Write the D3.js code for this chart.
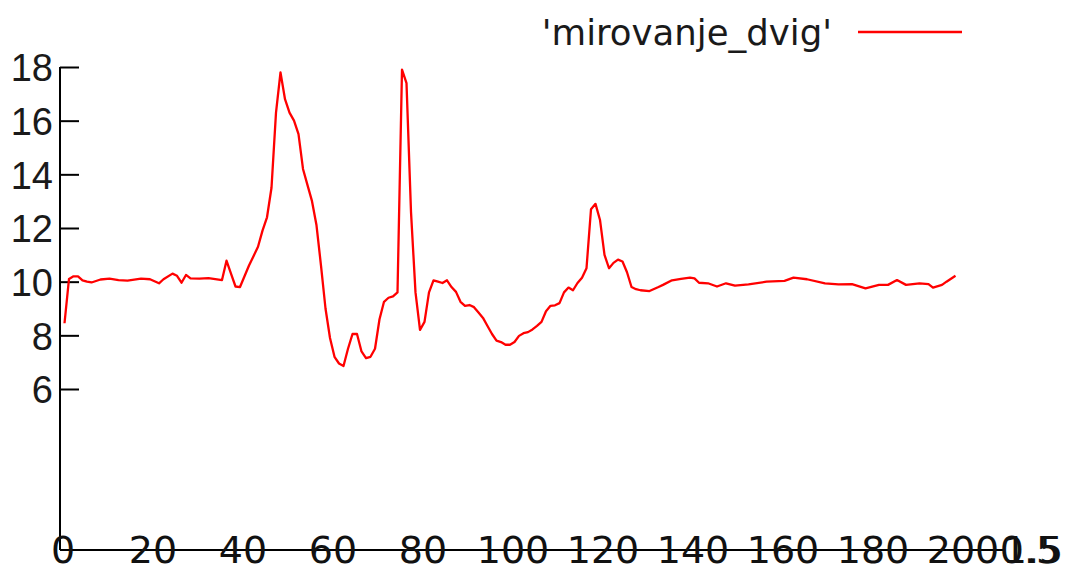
<!DOCTYPE html>
<html>
<head>
<meta charset="utf-8">
<script src="https://cdn.jsdelivr.net/npm/d3@7"></script>
<style>
  html, body { margin: 0; padding: 0; background: #fff; }
  svg { display: block; font-family: "DejaVu Sans", sans-serif; }
</style>
</head>
<body>
<svg id="chart" width="1067" height="566"></svg>
<script>
// Series: sample index and measured value
const sampleX = [1, 2, 3, 4, 5, 6, 7, 9, 11, 13, 15, 18, 20, 22, 23, 25, 26, 27, 28, 29, 31, 33, 36,
  37, 38, 39, 40, 42, 43, 44, 45, 46, 47, 48, 49, 50, 51, 52, 53, 54, 55, 56, 57, 58, 59, 60,
  61, 62, 63, 64, 65, 66, 67, 68, 69, 70, 71, 72, 73, 74, 75, 76, 77, 78, 79, 80, 81, 82, 83,
  84, 85, 86, 87, 88, 89, 90, 91, 92, 93, 94, 95, 96, 97, 98, 99, 100, 101, 102, 103, 104, 105,
  106, 107, 108, 109, 110, 111, 112, 113, 114, 115, 116, 117, 118, 119, 120, 121, 122, 123, 124,
  125, 126, 127, 128, 129, 131, 133, 134, 136, 138, 140, 141, 142, 144, 146, 148, 150, 153, 157,
  161, 163, 166, 170, 173, 176, 179, 182, 184, 186, 188, 191, 193, 194, 196, 197, 199];
const sampleY = [8.45, 10.1, 10.2, 10.2, 10.05, 10.0, 9.97, 10.08, 10.11, 10.06, 10.04, 10.11, 10.09,
  9.94, 10.09, 10.3, 10.22, 9.96, 10.25, 10.12, 10.11, 10.13, 10.06,
  10.78, 10.3, 9.82, 9.8, 10.6, 10.95, 11.3, 11.9, 12.4, 13.5, 16.3, 17.8, 16.8, 16.3, 16.0, 15.5,
  14.2, 13.6, 13.0, 12.1, 10.6, 9.0, 7.9,
  7.2, 6.95, 6.86, 7.5, 8.05, 8.05, 7.4, 7.15, 7.2, 7.5, 8.6, 9.25, 9.4, 9.45, 9.6, 17.9, 17.4,
  12.6, 9.6, 8.2, 8.5, 9.6, 10.05,
  10.0, 9.95, 10.05, 9.8, 9.62, 9.25, 9.1, 9.13, 9.05, 8.85, 8.65, 8.35, 8.05, 7.8, 7.75, 7.65,
  7.65, 7.75, 7.98, 8.08, 8.12, 8.22,
  8.35, 8.5, 8.9, 9.1, 9.12, 9.2, 9.6, 9.78, 9.68, 9.95, 10.15, 10.5, 12.7, 12.9, 12.3, 11.0,
  10.5, 10.7, 10.82,
  10.75, 10.35, 9.8, 9.72, 9.68, 9.65, 9.8, 9.88, 10.05, 10.1, 10.15, 10.12, 9.96, 9.94, 9.82,
  9.94, 9.85, 9.9, 10.0,
  10.03, 10.15, 10.09, 9.94, 9.9, 9.91, 9.75, 9.88, 9.88, 10.06, 9.88, 9.94, 9.91, 9.78, 9.88,
  10.0, 10.22];

// Axis ticks
const xTickValues = [0, 20, 40, 60, 80, 100, 120, 140, 160, 180, 200];
const yTickValues = [6, 8, 10, 12, 14, 16, 18];
// Extra labels printed past the end of the x axis
const xEndLabels = ["0.5", "1.5"];

const seriesName = "'mirovanje_dvig'";

const svg = d3.select("#chart");
const x = d3.scaleLinear().domain([0, 200]).range([60, 960]);
const y = d3.scaleLinear().domain([0, 18]).range([550, 67]);

const tickFont = 38;
const legendFont = 35.5;

// Y axis: ticks pointing into the plot
const yAxis = d3.axisRight(y).tickValues(yTickValues).tickSize(19).tickFormat("");
const yg = svg.append("g").attr("transform", `translate(${x(0)},0)`).call(yAxis);
yg.select(".domain").attr("d", `M0,${y(0)}V${y(18)}`);
yg.selectAll("path, line").attr("stroke", "#000").attr("stroke-width", 2);

yg.selectAll(".tick").append("text")
  .attr("x", -7)
  .attr("dy", "0.36em")
  .attr("text-anchor", "end")
  .attr("fill", "#1a1a1a")
  .style("font-size", tickFont + "px")
  .text(d => d);

// X axis line along y = 0
svg.append("line")
  .attr("x1", x(0)).attr("x2", x(200) + 45)
  .attr("y1", y(0)).attr("y2", y(0))
  .attr("stroke", "#000").attr("stroke-width", 2);

// X tick labels centred on the axis line
svg.append("g").selectAll("text")
  .data(xTickValues)
  .join("text")
  .attr("x", d => x(d) + 3)
  .attr("y", y(0))
  .attr("dy", "0.33em")
  .attr("text-anchor", "middle")
  .attr("fill", "#111")
  .style("font-size", tickFont + "px")
  .text(d => d);

svg.append("g").selectAll("text")
  .data(xEndLabels)
  .join("text")
  .attr("x", (d, i) => x(200) + 70 + i * 3)
  .attr("y", y(0))
  .attr("dy", "0.33em")
  .attr("text-anchor", "middle")
  .attr("fill", "#111")
  .style("font-size", tickFont + "px")
  .text(d => d);

// Data line
const points = sampleX.map((v, i) => [v, sampleY[i]]);
const line = d3.line().x(d => x(d[0])).y(d => y(d[1]));
svg.append("path")
  .datum(points)
  .attr("d", line)
  .attr("fill", "none")
  .attr("stroke", "#ff0000")
  .attr("stroke-width", 2.3)
  .attr("stroke-linejoin", "round");

// Legend
const legend = svg.append("g");
legend.append("text")
  .attr("x", 832)
  .attr("y", 45)
  .attr("text-anchor", "end")
  .attr("fill", "#1a1a1a")
  .style("font-size", legendFont + "px")
  .text(seriesName);
legend.append("line")
  .attr("x1", 858).attr("x2", 962)
  .attr("y1", 32).attr("y2", 32)
  .attr("stroke", "#ff0000").attr("stroke-width", 2.3);
</script>
</body>
</html>
